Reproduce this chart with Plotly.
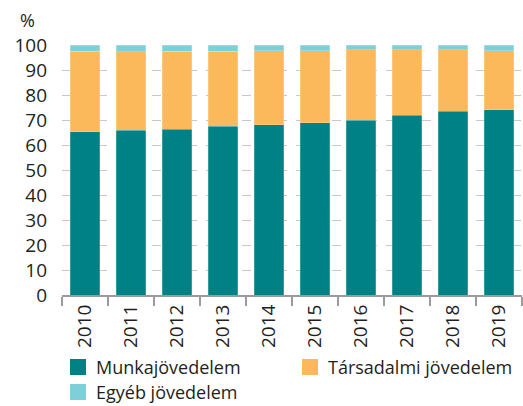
import plotly.graph_objects as go

years = ["2010", "2011", "2012", "2013", "2014", "2015", "2016", "2017", "2018", "2019"]
munka = [65.3, 66.0, 66.3, 67.5, 68.2, 69.0, 69.9, 71.9, 73.5, 74.2]
tarsadalmi = [32.3, 31.4, 31.3, 30.1, 29.6, 28.8, 28.3, 26.3, 24.7, 23.6]
egyeb = [2.4, 2.6, 2.4, 2.4, 2.2, 2.2, 1.8, 1.8, 1.8, 2.2]
y_ticks = [0, 10, 20, 30, 40, 50, 60, 70, 80, 90, 100]

series_names = ["Munkajövedelem", "Társadalmi jövedelem", "Egyéb jövedelem"]
series_vals = [munka, tarsadalmi, egyeb]
series_colors = ["#008185", "#FBB95B", "#7FCFDA"]

FONT = "Open Sans"
TXT = "#231F20"
W, H = 523, 406
L, R, T, B = 62, 1, 45, 111
PW, PH = W - L - R, H - T - B


def px_x(x):
    """Pixel column -> paper x."""
    return (x - L) / PW


def px_y(y):
    """Pixel row (from top) -> paper y."""
    return (H - B - y) / PH


fig = go.Figure()
for name, vals, col in zip(series_names, series_vals, series_colors):
    fig.add_trace(go.Bar(
        x=years, y=vals, name=name, showlegend=False,
        marker=dict(color=col, line=dict(width=0.6, color="rgba(255,255,255,0.35)")),
    ))

# Legend drawn as colour swatches + labels, two columns
legend_slots = [(70, 359), (302, 359), (70, 384)]
shapes, annotations = [], []
for (sx, sy), name, col in zip(legend_slots, series_names, series_colors):
    shapes.append(dict(
        type="rect", xref="paper", yref="paper",
        x0=px_x(sx), x1=px_x(sx + 16), y0=px_y(sy + 16), y1=px_y(sy),
        fillcolor=col, line=dict(width=0),
    ))
    annotations.append(dict(
        text=name, xref="paper", yref="paper", x=px_x(sx + 24), y=px_y(sy + 8),
        xanchor="left", yanchor="middle", showarrow=False,
        font=dict(size=18, color=TXT),
    ))

annotations.append(dict(
    text="%", xref="paper", yref="paper", x=px_x(27), y=px_y(20),
    xanchor="center", yanchor="middle", showarrow=False,
    font=dict(size=18, color=TXT),
))

fig.update_layout(
    barmode="stack",
    bargap=0.36,
    width=W, height=H,
    margin=dict(l=L, r=R, t=T, b=B, autoexpand=False),
    paper_bgcolor="white", plot_bgcolor="white",
    font=dict(family=FONT, size=18, color=TXT),
    showlegend=False,
    shapes=shapes,
    annotations=annotations,
)

fig.update_xaxes(
    type="category", tickangle=-90, tickson="boundaries",
    ticks="outside", ticklen=9, tickcolor="#9b9b9b", tickwidth=2,
    showline=True, linecolor="#9b9b9b", linewidth=2,
    showgrid=False, tickfont=dict(size=19, color=TXT), automargin=False,
)
fig.update_yaxes(
    range=[0, 100], tickvals=y_ticks, ticks="", ticklabelstandoff=14,
    showgrid=True, gridcolor="#c8c8c8", griddash="dash", gridwidth=1,
    zeroline=False, showline=False, tickfont=dict(size=19, color=TXT),
    automargin=False,
)

fig.write_html("out.html")
